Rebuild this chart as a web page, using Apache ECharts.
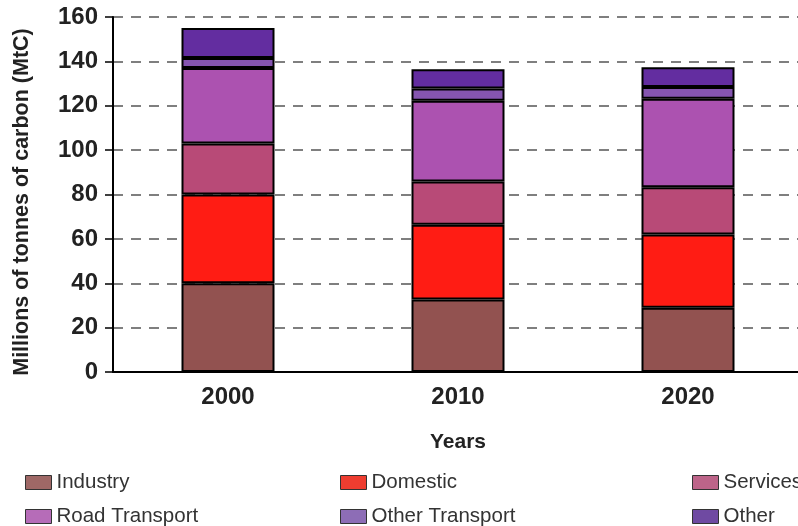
<!DOCTYPE html>
<html>
<head>
<meta charset="utf-8">
<script src="https://cdn.jsdelivr.net/npm/echarts@6/dist/echarts.min.js"></script>
<style>
  html, body { margin: 0; padding: 0; background: #fff; }
  #chart { width: 798px; height: 526px; }
</style>
</head>
<body>
<div id="chart"></div>
<script>
// Carbon emissions by sector, millions of tonnes of carbon
const years = ['2000', '2010', '2020'];
const industry       = [40, 32.7, 29];
const domestic       = [40, 33.7, 33];
const services       = [23, 19.5, 21.3];
const roadTransport  = [34, 36.4, 39.8];
const otherTransport = [4.5, 5.5, 5.4];
const other          = [13.5, 8.7, 8.8];
const yTicks = [0, 20, 40, 60, 80, 100, 120, 140, 160];

const sectors = [
  { name: 'Industry',        data: industry,       color: '#925250', legendColor: '#9f6866' },
  { name: 'Domestic',        data: domestic,       color: '#ff1c14', legendColor: '#ee3d30' },
  { name: 'Services',        data: services,       color: '#b84a77', legendColor: '#bd6489' },
  { name: 'Road Transport',  data: roadTransport,  color: '#ac52b0', legendColor: '#b66cb8' },
  { name: 'Other Transport', data: otherTransport, color: '#8555b0', legendColor: '#8d6db6' },
  { name: 'Other',           data: other,          color: '#632da0', legendColor: '#6f4aa2' }
];

// legend grid: two rows of three columns
const legendCols = [25, 340, 692];
const legendRows = [472, 506];
const legendOrder = [
  ['Industry', 'Domestic', 'Services'],
  ['Road Transport', 'Other Transport', 'Other']
];

const chart = echarts.init(document.getElementById('chart'), null, { renderer: 'canvas' });

const legendText = { fontFamily: 'Liberation Sans', fontSize: 20.5, color: '#333' };
const legends = [];
legendOrder.forEach((row, r) => {
  row.forEach((name, c) => {
    const s = sectors.find(x => x.name === name);
    legends.push({
      left: legendCols[c],
      top: legendRows[r],
      padding: 0,
      itemWidth: 26,
      itemHeight: 14,
      itemGap: 6,
      icon: 'rect',
      selectedMode: false,
      textStyle: legendText,
      data: [{ name: name, itemStyle: { color: s.legendColor, borderColor: '#333', borderWidth: 1 } }]
    });
  });
});

const labelFont = { fontFamily: 'Liberation Sans', fontWeight: 'bold', color: '#222' };

chart.setOption({
  animation: false,
  backgroundColor: '#fff',
  grid: { left: 113, top: 17, width: 690, height: 355, outerBoundsMode: 'none' },
  legend: legends,
  xAxis: {
    type: 'category',
    data: years,
    name: 'Years',
    nameLocation: 'middle',
    nameGap: 60,
    nameTextStyle: Object.assign({ fontSize: 21 }, labelFont),
    axisLine: { lineStyle: { color: '#000', width: 2 } },
    axisTick: { show: false },
    axisLabel: Object.assign({ fontSize: 24, margin: 13 }, labelFont)
  },
  yAxis: {
    type: 'value',
    min: yTicks[0],
    max: yTicks[yTicks.length - 1],
    interval: yTicks[1] - yTicks[0],
    name: 'Millions of tonnes of carbon (MtC)',
    nameLocation: 'middle',
    nameGap: 80,
    nameTextStyle: Object.assign({ fontSize: 21.5, padding: [0, 15, 0, 0] }, labelFont),
    axisLine: { show: true, lineStyle: { color: '#000', width: 2 } },
    axisTick: { show: true, length: 8, lineStyle: { color: '#000', width: 1.5 } },
    axisLabel: Object.assign({ fontSize: 24, margin: 15 }, labelFont),
    splitLine: { show: true, lineStyle: { color: '#555', width: 1.5, type: [10, 8] } }
  },
  series: sectors.map(s => ({
    name: s.name,
    type: 'bar',
    stack: 'total',
    barWidth: 93,
    data: s.data,
    itemStyle: { color: s.color, borderColor: '#000', borderWidth: 2 }
  }))
});
</script>
</body>
</html>
